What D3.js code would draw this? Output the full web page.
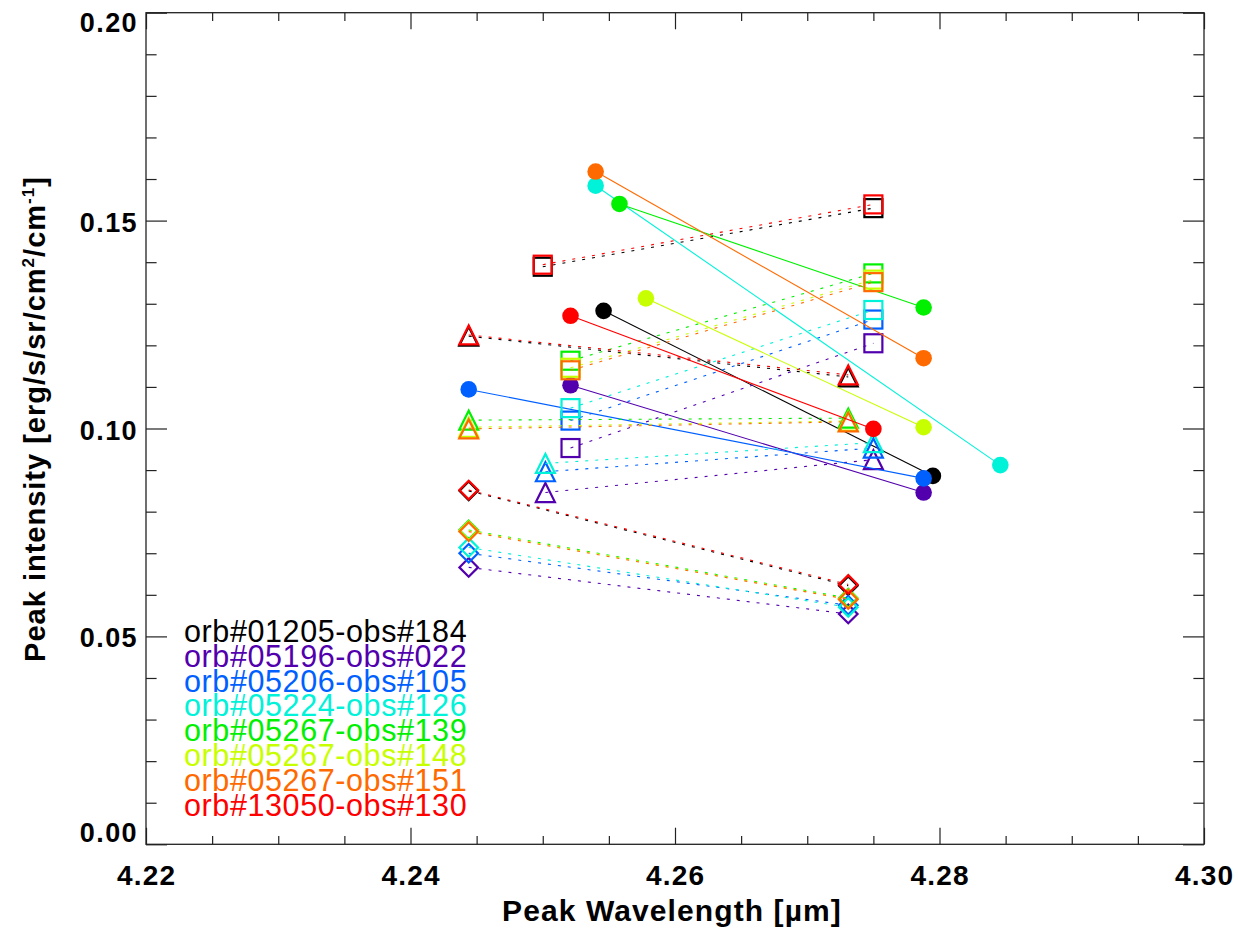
<!DOCTYPE html>
<html>
<head>
<meta charset="utf-8">
<script src="https://cdn.jsdelivr.net/npm/d3@7"></script>
<style>
  html, body { margin: 0; padding: 0; background: #fff; }
  svg { display: block; }
  text { font-family: "Liberation Sans", Arial, Helvetica, sans-serif; }
</style>
</head>
<body>
<svg id="chart" width="1238" height="933"></svg>
<script>
// ---------------- data ----------------
const seriesNames = [
  "orb#01205-obs#184", "orb#05196-obs#022", "orb#05206-obs#105", "orb#05224-obs#126",
  "orb#05267-obs#139", "orb#05267-obs#148", "orb#05267-obs#151", "orb#13050-obs#130"
];
const seriesColors = ["#000000", "#5200ae", "#0060ff", "#00f2d8", "#00f000", "#c8ff00", "#ff6a00", "#ff0000"];

// filled circles joined by a solid line: [x1, y1, x2, y2]
const circlePairs = [
  [4.2546, 0.1283, 4.2795, 0.0886],
  [4.2521, 0.1104, 4.2788, 0.0846],
  [4.2444, 0.1094, 4.2788, 0.0880],
  [4.2540, 0.1584, 4.2846, 0.0912],
  [4.2558, 0.1540, 4.2788, 0.1291],
  [4.2578, 0.1313, 4.2788, 0.1003],
  [4.2540, 0.1618, 4.2788, 0.1169],
  [4.2521, 0.1271, 4.2750, 0.0999]
];
// open squares joined by a dotted line
const squarePairs = [
  [4.2500, 0.1389, 4.2750, 0.1530],
  [4.2521, 0.0953, 4.2750, 0.1205],
  [4.2521, 0.1019, 4.2750, 0.1262],
  [4.2521, 0.1049, 4.2750, 0.1285],
  [4.2521, 0.1163, 4.2750, 0.1373],
  [4.2521, 0.1146, 4.2750, 0.1358],
  [4.2521, 0.1140, 4.2750, 0.1352],
  [4.2500, 0.1394, 4.2750, 0.1539]
];
// open triangles joined by a dotted line
const trianglePairs = [
  [4.2444, 0.1222, 4.2731, 0.1124],
  [4.2502, 0.0846, 4.2750, 0.0925],
  [4.2502, 0.0896, 4.2750, 0.0953],
  [4.2502, 0.0916, 4.2750, 0.0966],
  [4.2444, 0.1020, 4.2731, 0.1025],
  [4.2444, 0.1003, 4.2731, 0.1018],
  [4.2444, 0.0999, 4.2731, 0.1016],
  [4.2444, 0.1225, 4.2731, 0.1129]
];
// open diamonds joined by a dotted line
const diamondPairs = [
  [4.2444, 0.0850, 4.2731, 0.0622],
  [4.2444, 0.0666, 4.2731, 0.0554],
  [4.2444, 0.0700, 4.2731, 0.0575],
  [4.2444, 0.0714, 4.2731, 0.0570],
  [4.2444, 0.0756, 4.2731, 0.0592],
  [4.2444, 0.0754, 4.2731, 0.0590],
  [4.2444, 0.0752, 4.2731, 0.0589],
  [4.2444, 0.0852, 4.2731, 0.0625]
];

const xDomain = [4.22, 4.30];
const yDomain = [0.00, 0.20];
const xTickLabels = ["4.22", "4.24", "4.26", "4.28", "4.30"];
const yTickLabels = ["0.00", "0.05", "0.10", "0.15", "0.20"];
const xTitle = "Peak Wavelength [µm]";

// ---------------- layout ----------------
const L = 146, R = 1204, T = 12.7, B = 844.3;
const svg = d3.select("#chart");
const x = d3.scaleLinear().domain(xDomain).range([L, R]);
const y = d3.scaleLinear().domain(yDomain).range([B, T]);

const xMajor = xTickLabels.map(Number);
const yMajor = yTickLabels.map(Number);
const xMinor = d3.range(0, 17).map(i => 4.22 + i * 0.005).filter(v => !xMajor.some(m => Math.abs(m - v) < 1e-9));
const yMinor = d3.range(0, 21).map(i => i * 0.01).filter(v => !yMajor.some(m => Math.abs(m - v) < 1e-9));

const xMajLen = 16.6, xMinLen = 8.3, yMajLen = 21, yMinLen = 10.6;
const axisCol = "#222";

// axes via d3 axis generators (ticks only, no labels)
svg.append("g").attr("transform", `translate(0,${B})`)
  .call(d3.axisTop(x).tickValues(xMajor).tickSize(xMajLen).tickFormat(""));
svg.append("g").attr("transform", `translate(0,${B})`)
  .call(d3.axisTop(x).tickValues(xMinor).tickSize(xMinLen).tickFormat(""));
svg.append("g").attr("transform", `translate(0,${T})`)
  .call(d3.axisBottom(x).tickValues(xMajor).tickSize(xMajLen).tickFormat(""));
svg.append("g").attr("transform", `translate(0,${T})`)
  .call(d3.axisBottom(x).tickValues(xMinor).tickSize(xMinLen).tickFormat(""));
svg.append("g").attr("transform", `translate(${L},0)`)
  .call(d3.axisRight(y).tickValues(yMajor).tickSize(yMajLen).tickFormat(""));
svg.append("g").attr("transform", `translate(${L},0)`)
  .call(d3.axisRight(y).tickValues(yMinor).tickSize(yMinLen).tickFormat(""));
svg.append("g").attr("transform", `translate(${R},0)`)
  .call(d3.axisLeft(y).tickValues(yMajor).tickSize(yMajLen).tickFormat(""));
svg.append("g").attr("transform", `translate(${R},0)`)
  .call(d3.axisLeft(y).tickValues(yMinor).tickSize(yMinLen).tickFormat(""));
svg.selectAll(".domain").remove();
svg.selectAll(".tick line").attr("stroke", axisCol).attr("stroke-width", 1.2);

svg.append("rect").attr("x", L).attr("y", T).attr("width", R - L).attr("height", B - T)
  .attr("fill", "none").attr("stroke", axisCol).attr("stroke-width", 1.3);

// tick labels
svg.append("g").selectAll("text").data(xTickLabels).join("text")
  .attr("x", d => x(+d) + 0.6).attr("y", 885)
  .attr("text-anchor", "middle")
  .attr("font-size", 28).attr("font-weight", "bold").attr("letter-spacing", 1.2)
  .text(d => d);
svg.append("g").selectAll("text").data(yTickLabels).join("text")
  .attr("x", 138).attr("y", d => Math.min(Math.max(y(+d) + 11, T + 19), B - 2))
  .attr("text-anchor", "end")
  .attr("font-size", 27).attr("font-weight", "bold").attr("letter-spacing", 1.4)
  .text(d => d);

// axis titles
svg.append("text").attr("x", 672).attr("y", 921).attr("text-anchor", "middle")
  .attr("font-size", 30).attr("font-weight", "bold").attr("letter-spacing", 1.1).text(xTitle);

const yt = svg.append("text").attr("transform", "translate(45,419) rotate(-90)")
  .attr("text-anchor", "middle").attr("font-size", 29).attr("font-weight", "bold").attr("letter-spacing", 1.0);
yt.append("tspan").text("Peak intensity [erg/s/sr/cm");
yt.append("tspan").attr("font-size", 17).attr("dy", -11).text("2");
yt.append("tspan").attr("dy", 11).text("/cm");
yt.append("tspan").attr("font-size", 17).attr("dy", -11).text("-1");
yt.append("tspan").attr("dy", 11).text("]");

// ---------------- marks ----------------
const plot = svg.append("g");
const dotted = "3,7";

function pairLine(g, p, color, dash) {
  g.append("line")
    .attr("x1", x(p[0])).attr("y1", y(p[1])).attr("x2", x(p[2])).attr("y2", y(p[3]))
    .attr("stroke", color).attr("stroke-width", 1.1)
    .attr("stroke-dasharray", dash || null);
}
const sq = 9, tr = 9.5, dm = 9.3;
function squareAt(g, cx, cy, color) {
  g.append("rect").attr("x", cx - sq).attr("y", cy - sq).attr("width", 2 * sq).attr("height", 2 * sq)
    .attr("fill", "none").attr("stroke", color).attr("stroke-width", 2.2);
}
function triangleAt(g, cx, cy, color) {
  g.append("path").attr("d", `M${cx - tr},${cy + tr}L${cx},${cy - tr}L${cx + tr},${cy + tr}Z`)
    .attr("fill", "none").attr("stroke", color).attr("stroke-width", 2.2).attr("stroke-linejoin", "miter");
}
function diamondAt(g, cx, cy, color) {
  g.append("path").attr("d", `M${cx},${cy - dm}L${cx + dm},${cy}L${cx},${cy + dm}L${cx - dm},${cy}Z`)
    .attr("fill", "none").attr("stroke", color).attr("stroke-width", 2.2);
}

seriesNames.forEach((name, i) => {
  const c = seriesColors[i];
  const g = plot.append("g");
  const cp = circlePairs[i];
  pairLine(g, cp, c, null);
  [[cp[0], cp[1]], [cp[2], cp[3]]].forEach(pt => {
    g.append("circle").attr("cx", x(pt[0])).attr("cy", y(pt[1])).attr("r", 8.3).attr("fill", c);
  });
  const sp = squarePairs[i];
  pairLine(g, sp, c, dotted);
  squareAt(g, x(sp[0]), y(sp[1]), c); squareAt(g, x(sp[2]), y(sp[3]), c);
  const tp = trianglePairs[i];
  pairLine(g, tp, c, dotted);
  triangleAt(g, x(tp[0]), y(tp[1]), c); triangleAt(g, x(tp[2]), y(tp[3]), c);
  const dp = diamondPairs[i];
  pairLine(g, dp, c, dotted);
  diamondAt(g, x(dp[0]), y(dp[1]), c); diamondAt(g, x(dp[2]), y(dp[3]), c);
});

// legend
svg.append("g").selectAll("text").data(seriesNames).join("text")
  .attr("x", 184).attr("y", (d, i) => 641.7 + i * 24.9)
  .attr("font-size", 30.5).attr("letter-spacing", 0.6).attr("fill", (d, i) => seriesColors[i])
  .text(d => d);
</script>
</body>
</html>
